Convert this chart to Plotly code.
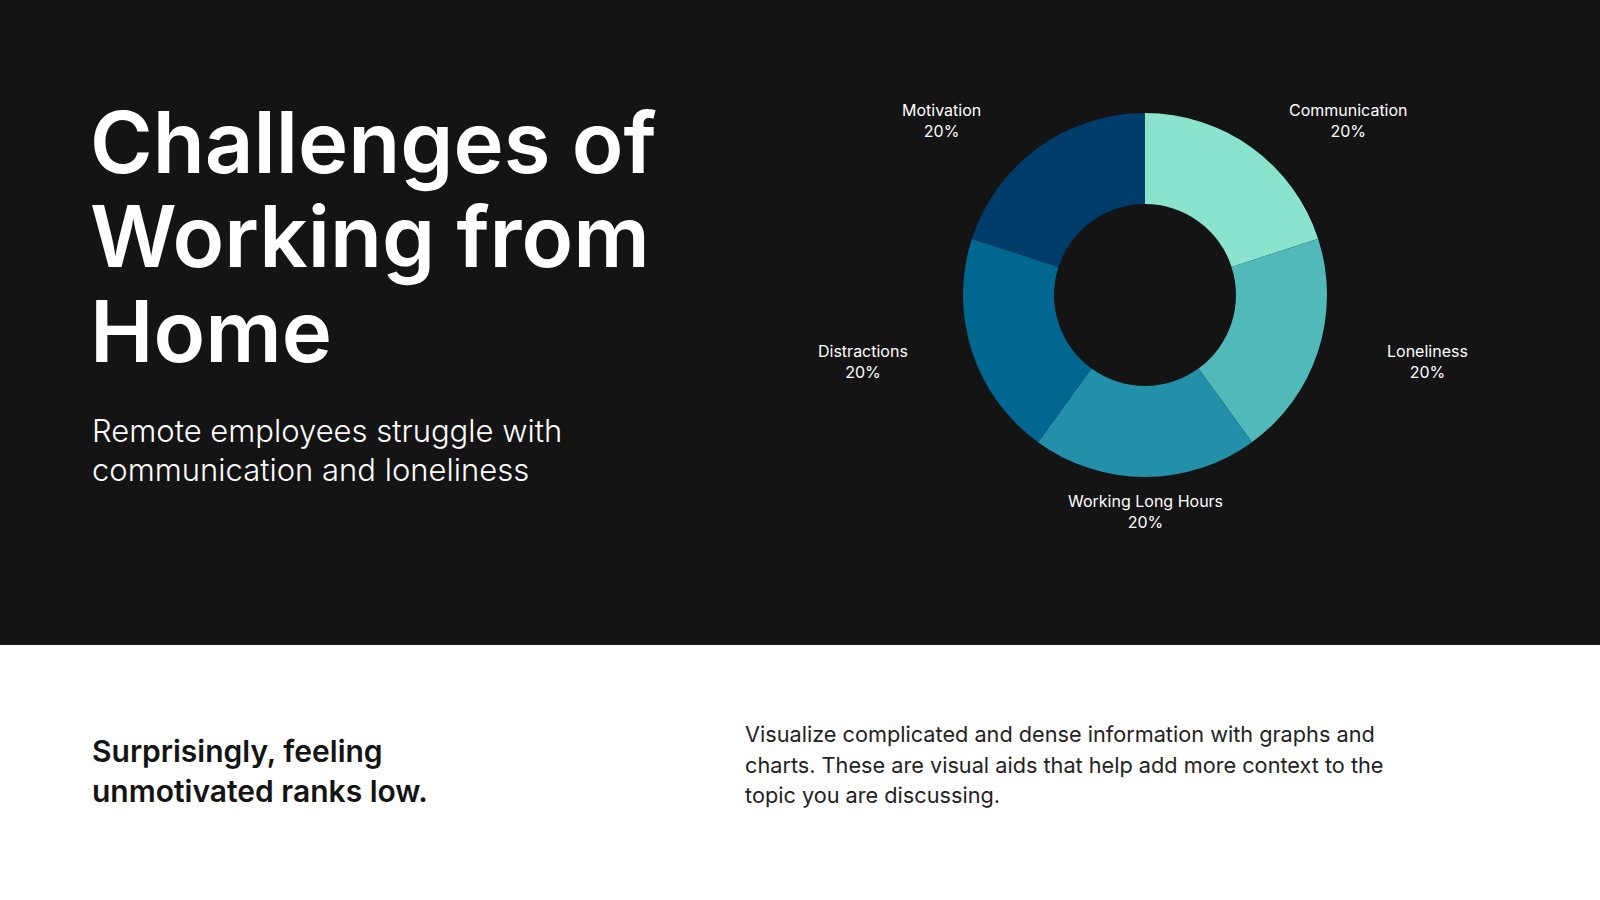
import math
import plotly.graph_objects as go

# chart data
categories = ["Communication", "Loneliness", "Working Long Hours", "Distractions", "Motivation"]
shares = [20, 20, 20, 20, 20]
slice_colors = ["#8AE3CC", "#52B9BA", "#2190A8", "#016690", "#003D6B"]

title_lines = ["Challenges of", "Working from", "Home"]
subtitle_lines = ["Remote employees struggle with", "communication and loneliness"]
note_lines = ["Surprisingly, feeling", "unmotivated ranks low."]
body_lines = ["Visualize complicated and dense information with graphs and",
              "charts. These are visual aids that help add more context to the",
              "topic you are discussing."]

W, H = 1600, 900
DARK = "#141414"
FONT = "Inter"
CX, CY, R = 1145, 295, 182   # donut centre / radius in px
LABEL_R, LABEL_SHIFT = 216, 77  # label ring radius and sideways push


def py(px):
    # pixel from top -> paper y
    return 1 - px / H


donut = go.Pie(
    labels=categories, values=shares, hole=0.5, sort=False,
    direction="clockwise", rotation=0,
    marker=dict(colors=slice_colors, line=dict(width=0)),
    textinfo="none",
    domain=dict(x=[(CX - R) / W, (CX + R) / W], y=[py(CY + R), py(CY - R)]),
    showlegend=False, hoverinfo="label+percent",
)

fig = go.Figure(data=[donut])

fig.add_shape(type="rect", xref="paper", yref="paper", x0=0, x1=1, y0=py(645), y1=1,
              fillcolor=DARK, line=dict(width=0), layer="below")

ann = []

# slice labels: placed off the middle of each slice, pushed sideways
total = sum(shares)
cum = 0
for cat, v in zip(categories, shares):
    theta = 2 * math.pi * (cum + v / 2) / total
    cum += v
    s = math.sin(theta)
    side = 0 if abs(s) < 1e-6 else (1 if s > 0 else -1)
    lx = CX + LABEL_R * s + LABEL_SHIFT * side
    ly = CY - LABEL_R * math.cos(theta)
    ann.append(dict(text=f"{cat}<br>{round(100 * v / total)}%", x=lx / W, y=py(ly),
                    xanchor="center", font=dict(size=16, color="white", family=FONT)))

for txt, yc in zip(title_lines, [142, 237, 332]):
    ann.append(dict(text=txt, x=88 / W, y=py(yc), font=dict(size=85, color="white", family=FONT, weight=600)))
for txt, yc in zip(subtitle_lines, [430, 469]):
    ann.append(dict(text=txt, x=90 / W, y=py(yc), font=dict(size=31, color="white", family=FONT, weight=300)))
for txt, yc in zip(note_lines, [751, 791]):
    ann.append(dict(text=txt, x=90 / W, y=py(yc), font=dict(size=30, color=DARK, family=FONT, weight=600)))
for txt, yc in zip(body_lines, [734, 765, 795]):
    ann.append(dict(text=txt, x=743 / W, y=py(yc), font=dict(size=21.7, color="#222222", family=FONT, weight=400)))
for a in ann:
    a.setdefault("xanchor", "left")
    a.update(xref="paper", yref="paper", yanchor="middle", showarrow=False)

fig.update_layout(
    width=W, height=H, autosize=False,
    margin=dict(l=0, r=0, t=0, b=0),
    paper_bgcolor="white", plot_bgcolor="white",
    annotations=ann,
)

fig.write_html("out.html", config={"displayModeBar": False},
               post_script="document.body.style.margin='0';")
